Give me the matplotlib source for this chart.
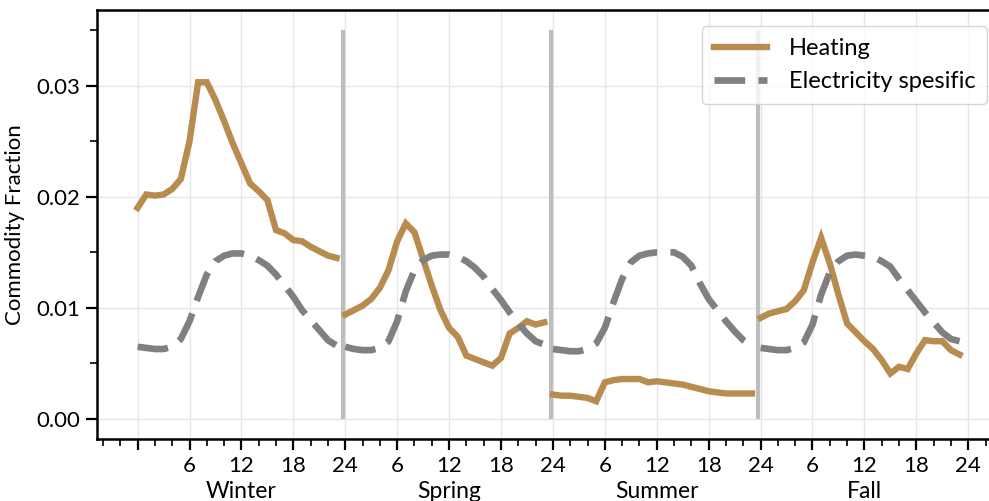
import matplotlib
matplotlib.use("Agg")
import matplotlib.pyplot as plt
import matplotlib.transforms as mtransforms
import numpy as np

plt.rcParams['font.family'] = ['Lato', 'DejaVu Sans']

seasons = ["Winter", "Spring", "Summer", "Fall"]

heating_winter = [0.0190, 0.0202, 0.0201, 0.0202, 0.0207, 0.0216, 0.0250, 0.0303,
                  0.0303, 0.0287, 0.0268, 0.0248, 0.0230, 0.0212, 0.0205, 0.0197,
                  0.0170, 0.0167, 0.0161, 0.0160, 0.0155, 0.0151, 0.0147, 0.0145]
heating_spring = [0.0094, 0.0098, 0.0102, 0.0108, 0.0118, 0.0134, 0.0160, 0.0176,
                  0.0168, 0.0144, 0.0120, 0.0098, 0.0082, 0.0074, 0.0057, 0.0054,
                  0.0051, 0.0048, 0.0055, 0.0077, 0.0082, 0.0088, 0.0085, 0.0087]
heating_summer = [0.0022, 0.0021, 0.0021, 0.0020, 0.0019, 0.0016, 0.0033, 0.0035,
                  0.0036, 0.0036, 0.0036, 0.0033, 0.0034, 0.0033, 0.0032, 0.0031,
                  0.0029, 0.0027, 0.0025, 0.0024, 0.0023, 0.0023, 0.0023, 0.0023]
heating_fall = [0.0091, 0.0095, 0.0097, 0.0099, 0.0106, 0.0116, 0.0141, 0.0163,
                0.0140, 0.0112, 0.0086, 0.0078, 0.0070, 0.0063, 0.0053, 0.0041,
                0.0047, 0.0045, 0.0059, 0.0071, 0.0070, 0.0070, 0.0062, 0.0058]

elec_winter = [0.0065, 0.0064, 0.0063, 0.0063, 0.0065, 0.0072, 0.0088, 0.0110,
               0.0130, 0.0142, 0.0147, 0.0149, 0.0149, 0.0147, 0.0143, 0.0138,
               0.0130, 0.0120, 0.0110, 0.0098, 0.0089, 0.0080, 0.0071, 0.0066]
elec_spring = [0.0065, 0.0063, 0.0062, 0.0062, 0.0064, 0.0070, 0.0088, 0.0115,
               0.0134, 0.0143, 0.0147, 0.0148, 0.0148, 0.0146, 0.0142, 0.0136,
               0.0128, 0.0117, 0.0107, 0.0096, 0.0086, 0.0077, 0.0070, 0.0067]
elec_summer = [0.0063, 0.0062, 0.0061, 0.0061, 0.0063, 0.0068, 0.0082, 0.0105,
               0.0126, 0.0141, 0.0147, 0.0149, 0.0150, 0.0150, 0.0150, 0.0146,
               0.0138, 0.0122, 0.0108, 0.0098, 0.0088, 0.0079, 0.0071, 0.0066]
elec_fall = [0.0064, 0.0063, 0.0062, 0.0062, 0.0064, 0.0069, 0.0085, 0.0112,
             0.0132, 0.0142, 0.0147, 0.0148, 0.0147, 0.0146, 0.0142, 0.0137,
             0.0126, 0.0116, 0.0106, 0.0096, 0.0087, 0.0078, 0.0072, 0.0070]

hour_labels = ["6", "12", "18", "24"]

HEAT_COLOR = "#b88c4f"
ELEC_COLOR = "#808080"


def main():
    fig = plt.figure(figsize=(9.89, 5.01), dpi=100)
    ax = fig.add_axes([0.098, 0.123, 0.902, 0.857])

    heating = [heating_winter, heating_spring, heating_summer, heating_fall]
    elec = [elec_winter, elec_spring, elec_summer, elec_fall]

    for k in range(len(seasons)):
        hours = np.arange(24) + 24 * k
        ax.plot(hours, heating[k], color=HEAT_COLOR, lw=4.6,
                solid_joinstyle='miter', label="Heating" if k == 0 else None,
                zorder=3)
        ax.plot(hours, elec[k], color=ELEC_COLOR, lw=4.8, dashes=(4.6, 2.0),
                label="Electricity spesific" if k == 0 else None, zorder=3)

    # season separators
    for k in range(1, len(seasons)):
        ax.vlines(24 * k - 0.25, 0, 0.035, color="#bdbdbd", lw=3, zorder=2)

    # x axis: hours of each season
    major = np.arange(0, 97, 6)
    ax.set_xticks(major)
    ax.set_xticklabels([""] + hour_labels * len(seasons))
    ax.set_xticks(np.arange(-4, 99, 2), minor=True)
    ax.set_xlim(-4.7, 98.4)

    ax.set_yticks([0.0, 0.01, 0.02, 0.03])
    ax.set_yticklabels(["0.00", "0.01", "0.02", "0.03"])
    ax.set_yticks([0.005, 0.015, 0.025, 0.035], minor=True)
    ax.set_ylim(-0.00183, 0.0368)

    ax.grid(True, which='major', color='#e6e6e6', lw=1, zorder=0)
    ax.set_axisbelow(True)

    ax.tick_params(axis='both', which='major', length=8, width=1.6,
                   labelsize=16, pad=4)
    ax.tick_params(axis='both', which='minor', length=5, width=1.2)
    for side in ['left', 'top', 'bottom']:
        ax.spines[side].set_linewidth(1.8)
    ax.spines['right'].set_visible(False)

    trans = mtransforms.blended_transform_factory(ax.transData, ax.transAxes)
    for k, name in enumerate(seasons):
        ax.text(12 + 24 * k, -0.121, name, transform=trans, ha='center',
                va='center', fontsize=16.5)

    ax.set_ylabel("Commodity Fraction", fontsize=16, labelpad=8)

    ax.legend(loc='upper right', fontsize=17, handlelength=2.25,
              borderpad=0.5, labelspacing=0.5, handletextpad=0.93,
              framealpha=0.8, borderaxespad=0,
              bbox_to_anchor=(0.9978, 0.962))

    fig.savefig("out.png", dpi=100)


if __name__ == "__main__":
    main()
